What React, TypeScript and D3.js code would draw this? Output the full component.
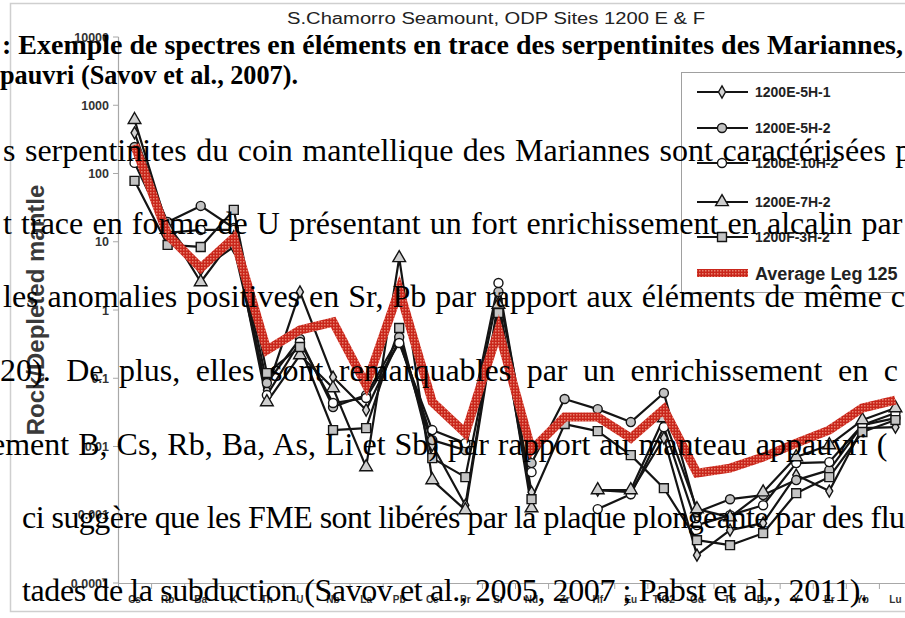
import React from "react";
import * as d3 from "d3";

const categories = ["Cs","Rb","Ba","K","Th","U","Nb","La","Pb","Ce","Pr","Sr","Nd","Zr","Hf","Eu","TiO2","Gd","Tb","Dy","Y","Er","Yb","Lu"];

const s5H1 = [394, 17.6, 3.9, 8.39, 0.0671, 1.84, 0.104, 0.0342, 0.363, 0.0105, 0.00138, 1.4, 0.00214, null, 0.0023, 0.00214, 0.0133, 0.000256, 0.000595, 0.000753, 0.00381, 0.00222, 0.0186, 0.0192];
const s5H2 = [245, 19.5, 33.5, 15.9, 0.0851, 0.376, 0.0378, 0.0567, 0.402, 0.0124, 0.00885, 1.84, 0.00571, 0.0496, 0.0353, 0.0228, 0.0607, 0.00109, 0.00169, 0.00194, 0.00322, 0.0045, 0.0206, 0.0261];
const s10H2 = [143, 13.5, 14.9, 14.9, 0.0567, 0.34, 0.0433, 0.0513, 0.328, 0.0174, 0.0112, 2.49, 0.00421, null, 0.00121, 0.002, 0.0192, 0.000704, 0.000986, 0.00138, 0.00571, 0.00591, 0.0206, 0.0309];
const s7H2 = [611, 15.9, 2.57, 11.4, 0.0448, 0.219, 0.0718, 0.00499, 5.79, 0.00322, 0.00117, 1.2, 0.00125, null, 0.0023, 0.0023, 0.0261, 0.00121, 0.000922, 0.00214, 0.007, 0.0105, 0.0244, 0.0366];
const s3H2 = [78, 8.98, 8.39, 29.3, 0.119, 0.287, 0.0174, 0.0186, 0.545, 0.00676, 0.00356, 0.904, 0.00169, 0.0213, 0.0168, 0.00748, 0.00245, 0.000424, 0.000358, 0.000537, 0.00207, 0.00356, 0.0163, 0.0244];
const average = [263, 12.6, 4.13, 11.4, 0.259, 0.509, 0.667, 0.0795, 1.96, 0.0448, 0.0157, 0.509, 0.00885, 0.027, 0.027, 0.0133, 0.0353, 0.00407, 0.00482, 0.007, 0.0112, 0.0174, 0.0366, 0.048];

const seriesNames = ["1200E-5H-1", "1200E-5H-2", "1200E-10H-2", "1200E-7H-2", "1200F-3H-2"];
const averageName = "Average Leg 125";

const yTicks = [0.0001, 0.001, 0.01, 0.1, 1, 10, 100, 1000, 10000];
const yTickLabels = ["0.0001", "0.001", "0.01", "0.1", "1", "10", "100", "1000", "10000"];

const chartTitle = "S.Chamorro Seamount, ODP Sites 1200 E & F";
const yTitle = "Rock/Depleted mantle";

const boldLines = [
  ": Exemple de spectres en éléments en trace des serpentinites des Mariannes,",
  "pauvri (Savov et al., 2007).",
];
const bodyLines = [
  "s serpentinites du coin mantellique des Mariannes sont caractérisées par",
  "t trace en forme de U présentant un fort enrichissement en alcalin par",
  "les anomalies positives en Sr, Pb par rapport aux éléments de même c",
  "20). De plus, elles sont remarquables par un enrichissement en c",
  "ement B, Cs, Rb, Ba, As, Li et Sb) par rapport au manteau appauvri (",
  "ci suggère que les FME sont libérés par la plaque plongeante par des flu",
  "tades de la subduction (Savov et al., 2005, 2007 ; Pabst et al., 2011).",
];

const seriesData = [s5H1, s5H2, s10H2, s7H2, s3H2];
const markerTypes = [d3.symbolDiamond, d3.symbolCircle, d3.symbolCircle, d3.symbolTriangle, d3.symbolSquare];
const markerSizes = [42, 64, 64, 70, 80];
const markerFills = ["#d4d4d4", "#c2c2c2", "#ffffff", "#cfcfcf", "#c4c4c4"];

export default function App() {
  const W = 905, H = 618;
  const x = d3.scaleBand<string>().domain(categories).range([118, 912]);
  const cx = (c: string) => (x(c) as number) + x.bandwidth() / 2;
  const y = d3.scaleLog().domain([0.0001, 10000]).range([583, 37]);

  const line = d3
    .line<[string, number | null]>()
    .defined((d) => d[1] != null)
    .x((d) => cx(d[0]))
    .y((d) => y(d[1] as number));

  const pairs = (arr: (number | null)[]) => categories.map((c, i) => [c, arr[i]] as [string, number | null]);

  const sym = (i: number) => d3.symbol().type(markerTypes[i]).size(markerSizes[i])() as string;

  const bodyX = [3, 3, 3, 0, -9, 22, 22];
  const bodyWS = [1.5, 1.2, 1, 7.5, 1, 0, 0];
  const bodyLen: (number | null)[] = [null, null, null, null, null, 883, 846];
  const bodyY = [161, 234, 307, 381, 455, 528, 601];

  const legendY = [92, 128, 163, 202, 237, 273];

  return (
    <div style={{ position: "absolute", left: 0, top: 0, width: W, height: H, overflow: "hidden", background: "#fff" }}>
      <svg width={W} height={H} style={{ display: "block" }}>
        <defs>
          <pattern id="redtex" patternUnits="userSpaceOnUse" width="3" height="3">
            <rect width="3" height="3" fill="#c9261b" />
            <rect width="1.5" height="1.5" fill="#e8826f" />
          </pattern>
        </defs>
        <rect x={0} y={0} width={W} height={H} fill="#fff" />
        <rect x={10.5} y={3.5} width={1000} height={608} fill="none" stroke="#cfcfcf" strokeWidth={1.5} />

        <text x={496} y={24} textAnchor="middle" fontFamily="'Liberation Sans', Arial, sans-serif" fontSize={16} fill="#222" textLength={418} lengthAdjust="spacingAndGlyphs">
          {chartTitle}
        </text>

        <line x1={118.5} x2={118.5} y1={y(10000)} y2={y(0.0001)} stroke="#a8a8a8" strokeWidth={1.2} />
        {yTicks.map((t, i) => (
          <g key={t}>
            <line x1={113} x2={118.5} y1={y(t)} y2={y(t)} stroke="#a8a8a8" />
            <text x={109} y={y(t) + 4.5} textAnchor="end" fontFamily="'Liberation Sans', Arial, sans-serif" fontWeight="bold" fontSize={12.5} fill="#333">
              {yTickLabels[i]}
            </text>
          </g>
        ))}
        <text transform={`translate(44, 310) rotate(-90)`} textAnchor="middle" fontFamily="'Liberation Sans', Arial, sans-serif" fontWeight="bold" fontSize={24} fill="#3a3a3a">
          {yTitle}
        </text>

        <line x1={118} x2={912} y1={583.5} y2={583.5} stroke="#a8a8a8" strokeWidth={1.2} />
        {categories.map((c) => (
          <g key={c}>
            <line x1={(x(c) as number) + 0.5} x2={(x(c) as number) + 0.5} y1={583.5} y2={589} stroke="#a8a8a8" />
            <text x={cx(c)} y={603} textAnchor="middle" fontFamily="'Liberation Sans', Arial, sans-serif" fontWeight="bold" fontSize={10} fill="#333">
              {c}
            </text>
          </g>
        ))}

        {seriesData.map((s, i) => (
          <path key={"l" + i} d={line(pairs(s)) as string} fill="none" stroke="#141414" strokeWidth={2.2} strokeLinejoin="round" />
        ))}
        {seriesData.map((s, i) => (
          <g key={"m" + i}>
            {categories.map((c, j) =>
              s[j] == null ? null : (
                <path key={c} d={sym(i)} transform={`translate(${cx(c)},${y(s[j] as number)})`} fill={markerFills[i]} stroke="#141414" strokeWidth={1.4} />
              )
            )}
          </g>
        ))}
        <path d={line(pairs(average)) as string} fill="none" stroke="url(#redtex)" strokeWidth={9} strokeLinejoin="miter" />

        <rect x={681.5} y={72.5} width={400} height={220} fill="#fff" stroke="#a0a0a0" strokeWidth={1} />
        {seriesNames.map((n, i) => (
          <g key={n}>
            <line x1={697} x2={748} y1={legendY[i]} y2={legendY[i]} stroke="#141414" strokeWidth={2.2} />
            <path d={sym(i)} transform={`translate(722,${legendY[i]})`} fill={markerFills[i]} stroke="#141414" strokeWidth={1.4} />
            <text x={755} y={legendY[i] + 5} fontFamily="'Liberation Sans', Arial, sans-serif" fontWeight="bold" fontSize={14} fill="#222">
              {n}
            </text>
          </g>
        ))}
        <line x1={697} x2={748} y1={legendY[5]} y2={legendY[5]} stroke="url(#redtex)" strokeWidth={8} />
        <text x={755} y={legendY[5] + 7} fontFamily="'Liberation Sans', Arial, sans-serif" fontWeight="bold" fontSize={18} fill="#222">
          {averageName}
        </text>

        <text x={2} y={54} fontFamily="'Liberation Serif', 'Times New Roman', serif" fontWeight="bold" fontSize={28} fill="#000" textLength={901} lengthAdjust="spacingAndGlyphs">
          {boldLines[0]}
        </text>
        <text x={0} y={84} fontFamily="'Liberation Serif', 'Times New Roman', serif" fontWeight="bold" fontSize={27} fill="#000" textLength={298} lengthAdjust="spacingAndGlyphs">
          {boldLines[1]}
        </text>
        {bodyLines.map((t, i) => (
          <text
            key={i}
            x={bodyX[i]}
            y={bodyY[i]}
            fontFamily="'Liberation Serif', 'Times New Roman', serif"
            fontSize={32}
            wordSpacing={bodyWS[i]}
            fill="#000"
            style={{ whiteSpace: "pre" }}
            {...(bodyLen[i] != null ? { textLength: bodyLen[i] as number, lengthAdjust: "spacing" } : {})}
          >
            {t}
          </text>
        ))}
      </svg>
    </div>
  );
}
